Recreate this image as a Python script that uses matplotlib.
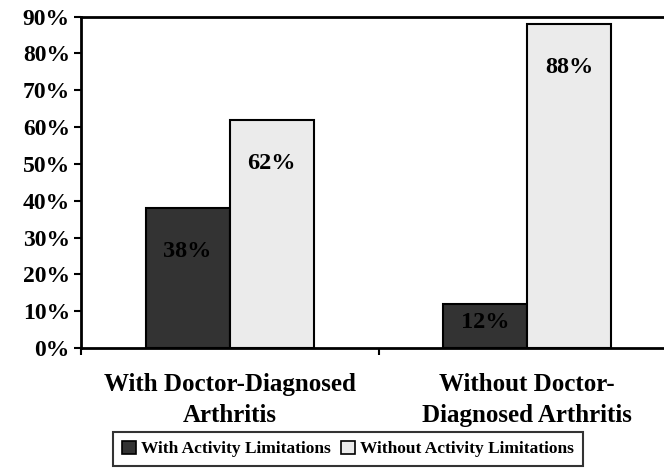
import matplotlib
matplotlib.use("Agg")
import matplotlib.pyplot as plt
import numpy as np

categories = ["With Doctor-Diagnosed\nArthritis", "Without Doctor-\nDiagnosed Arthritis"]
series_names = ["With Activity Limitations", "Without Activity Limitations"]
with_limits = [38, 12]
without_limits = [62, 88]
yticks = [0, 10, 20, 30, 40, 50, 60, 70, 80, 90]
ytick_labels = [f"{v}%" for v in yticks]

plt.rcParams['font.family'] = ['Liberation Serif', 'DejaVu Serif']
plt.rcParams['font.weight'] = 'bold'

fig = plt.figure(figsize=(6.64, 4.74), dpi=100)
ax = fig.add_axes([81/664, 1-348/474, 595/664, (348-16.5)/474])

x = np.arange(len(categories))
w = 0.283
colors = ["#333333", "#EBEBEB"]
b1 = ax.bar(x - w/2, with_limits, w, color=colors[0], edgecolor="black", linewidth=1.5, label=series_names[0])
b2 = ax.bar(x + w/2, without_limits, w, color=colors[1], edgecolor="black", linewidth=1.5, label=series_names[1])

fs = 17.5
for bars, vals in ((b1, with_limits), (b2, without_limits)):
    for rect, v in zip(bars, vals):
        ly = max(v - 11.8, v * 0.58)
        ax.text(rect.get_x() + rect.get_width()/2, ly, f"{v}%", ha="center", va="center",
                fontsize=fs, fontweight="bold", color="black")

ax.set_xlim(-0.5, 1.5)
ax.set_ylim(0, 90)
ax.set_yticks(yticks)
ax.set_yticklabels(ytick_labels, fontsize=17, fontweight="bold")
ax.tick_params(axis="y", direction="out", length=5, width=1.5, pad=3)

ax.set_xticks(x)
ax.set_xticklabels(categories, fontsize=18, fontweight="bold", linespacing=1.45)
ax.tick_params(axis="x", which="major", length=0, pad=18)
ax.set_xticks([-0.5, 0.5, 1.5], minor=True)
ax.tick_params(axis="x", which="minor", direction="out", length=5, width=1.5)

for s in ax.spines.values():
    s.set_linewidth(2)
    s.set_color("black")

leg = fig.legend(loc="center", bbox_to_anchor=(348/664, 1-449/474), ncol=2,
                 prop={"family": "Liberation Serif", "weight": "bold", "size": 12.5},
                 frameon=True, fancybox=False, edgecolor="black",
                 handlelength=0.8, handleheight=0.8, handletextpad=0.3,
                 columnspacing=0.6, borderpad=0.5, borderaxespad=0)
leg.get_frame().set_linewidth(1.5)
for h in leg.legend_handles:
    h.set_linewidth(1.2)

fig.savefig("out.png", dpi=100)
